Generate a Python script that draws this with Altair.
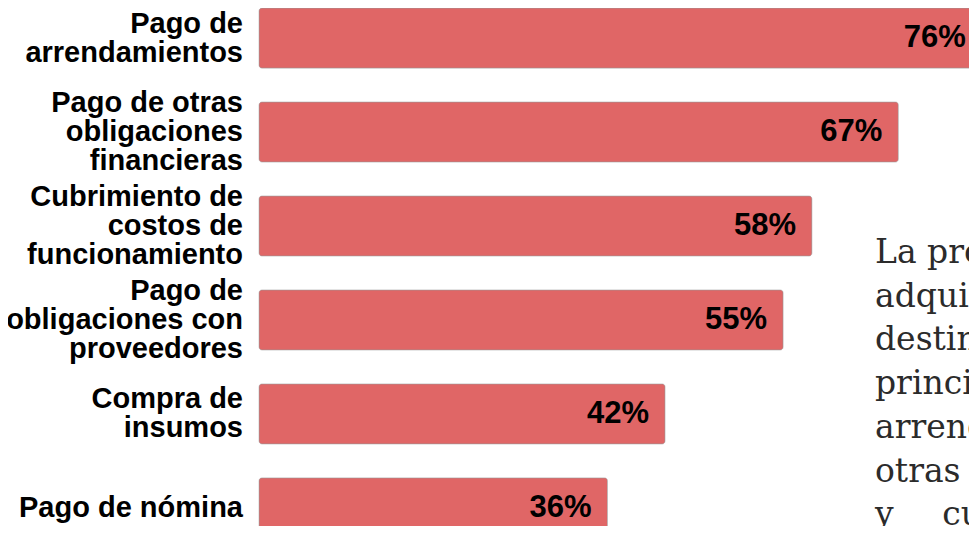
import altair as alt
import pandas as pd

# Categories (line breaks as in the reference labels)
categories = [
    "Pago de\narrendamientos",
    "Pago de otras\nobligaciones\nfinancieras",
    "Cubrimiento de\ncostos de\nfuncionamiento",
    "Pago de\nobligaciones con\nproveedores",
    "Compra de\ninsumos",
    "Pago de nómina",
]
# Share of companies (%)
values = [75.9, 66.6, 57.6, 54.6, 42.3, 36.3]

# Side paragraph (cut by the right edge in the reference)
paragraph = [
    "La proporción de recursos",
    "adquiridos fue",
    "destinada",
    "principalmente al pago de",
    "arrendamientos, pago de",
    "otras obligaciones",
    "y\u00a0\u00a0\u00a0\u00a0\u2009cubrimiento de costos",
]

X_MAX = 73.96      # visible end of the value axis (plot edge)
LABEL_CAP = 75.3   # keep value labels inside the picture

df = pd.DataFrame({"cat": categories, "val": values})

y_enc = alt.Y(
    "cat:N",
    sort=categories,
    scale=alt.Scale(range=[0, 530], paddingInner=0.36, paddingOuter=0),
    axis=None,
)
x_scale = alt.Scale(domain=[0, X_MAX], nice=False, zero=True)
x_enc = alt.X("val:Q", scale=x_scale, axis=None)

bars = alt.Chart(df).mark_bar(
    color="#E06666", cornerRadius=3, stroke="#9a9a9a", strokeWidth=1, strokeOpacity=0.45
).encode(x=x_enc, y=y_enc)

values_txt = alt.Chart(df).transform_calculate(
    lbl="format(datum.val, '.0f') + '%'",
    lx=f"min(datum.val, {LABEL_CAP})",
).mark_text(
    align="right", baseline="middle", dx=-16,
    font="Liberation Sans", fontWeight="bold", fontSize=31, color="#000000",
).encode(x=alt.X("lx:Q", scale=x_scale, axis=None), y=y_enc, text="lbl:N")

cat_txt = alt.Chart(df).transform_calculate(
    lines="split(datum.cat, '\\n')",
    off="30 - (length(split(datum.cat, '\\n')) - 1) * 29 / 2",
).mark_text(
    align="right", baseline="middle",
    font="Liberation Sans", fontWeight="bold", fontSize=29, lineHeight=29, color="#000000",
).encode(
    x=alt.value(-16),
    y=y_enc,
    yOffset=alt.YOffset("off:Q", scale=None),
    text="lines:N",
)

para = alt.Chart(pd.DataFrame({"k": [0]})).mark_text(
    text=paragraph, align="left", baseline="alphabetic",
    font="DejaVu Serif", fontSize=33, lineHeight=43.7, color="#2b2b2b",
).encode(x=alt.value(616), y=alt.value(255))

chart = alt.layer(bars, values_txt, cat_txt, para).properties(
    width=710,
    height=518,
    padding={"left": 251, "top": 0, "right": 0, "bottom": 0},
    autosize=alt.AutoSizeParams(type="none"),
    background="white",
).configure_view(stroke=None)

chart.save("out.html", embed_options={"renderer": "svg", "actions": False})
